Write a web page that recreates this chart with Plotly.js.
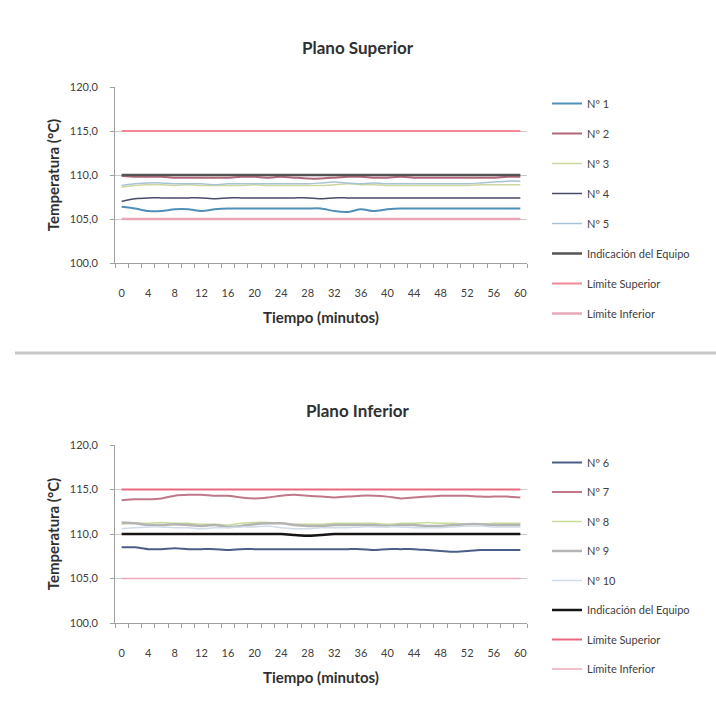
<!DOCTYPE html>
<html>
<head>
<meta charset="utf-8">
<script src="https://cdn.plot.ly/plotly-3.0.1.min.js"></script>
<style>html,body{margin:0;padding:0;background:#fff}#chart{width:716px;height:704px}</style>
</head>
<body>
<div id="chart"></div>
<script>
// Categories (minutes)
var tiempo = [0,2,4,6,8,10,12,14,16,18,20,22,24,26,28,30,32,34,36,38,40,42,44,46,48,50,52,54,56,58,60];
var tickLabels = [0,4,8,12,16,20,24,28,32,36,40,44,48,52,56,60];

// Plano Superior
var n1 = [106.4,106.2,105.9,105.9,106.1,106.1,105.9,106.1,106.2,106.2,106.2,106.2,106.2,106.2,106.2,106.2,105.9,105.8,106.1,105.9,106.1,106.2,106.2,106.2,106.2,106.2,106.2,106.2,106.2,106.2,106.2];
var n2 = [109.9,109.8,109.8,109.8,109.7,109.7,109.7,109.7,109.7,109.8,109.8,109.7,109.8,109.7,109.6,109.6,109.7,109.8,109.8,109.7,109.7,109.8,109.7,109.7,109.7,109.7,109.7,109.7,109.7,109.8,109.8];
var n3 = [108.6,108.8,108.9,108.9,108.8,108.9,108.8,108.8,108.8,108.8,108.9,108.8,108.8,108.8,108.8,108.8,108.9,109.0,108.9,108.9,108.8,108.8,108.8,108.8,108.8,108.8,108.8,108.9,108.9,108.9,108.9];
var n4 = [107.0,107.3,107.4,107.4,107.4,107.4,107.4,107.3,107.4,107.4,107.4,107.4,107.4,107.4,107.4,107.3,107.4,107.4,107.4,107.4,107.4,107.4,107.4,107.4,107.4,107.4,107.4,107.4,107.4,107.4,107.4];
var n5 = [108.8,109.0,109.1,109.1,109.0,109.0,109.0,108.9,109.0,109.0,109.0,109.0,109.0,109.0,109.0,109.1,109.2,109.1,109.0,109.1,109.0,109.0,109.0,109.0,109.0,109.0,109.0,109.1,109.2,109.3,109.3];
var indicSup = [110.0,110.0,110.0,110.0,110.0,110.0,110.0,110.0,110.0,110.0,110.0,110.0,110.0,110.0,110.0,110.0,110.0,110.0,110.0,110.0,110.0,110.0,110.0,110.0,110.0,110.0,110.0,110.0,110.0,110.0,110.0];

// Plano Inferior
var n6 = [108.5,108.5,108.3,108.3,108.4,108.3,108.3,108.3,108.2,108.3,108.3,108.3,108.3,108.3,108.3,108.3,108.3,108.3,108.3,108.2,108.3,108.3,108.3,108.2,108.1,108.0,108.1,108.2,108.2,108.2,108.2];
var n7 = [113.8,113.9,113.9,114.0,114.3,114.4,114.4,114.3,114.3,114.1,114.0,114.1,114.3,114.4,114.3,114.2,114.1,114.2,114.3,114.3,114.2,114.0,114.1,114.2,114.3,114.3,114.3,114.2,114.2,114.2,114.1];
var n8 = [111.1,111.2,111.2,111.3,111.2,111.2,111.1,111.1,111.0,111.2,111.3,111.3,111.2,111.1,111.1,111.1,111.2,111.2,111.2,111.2,111.1,111.2,111.2,111.3,111.2,111.2,111.1,111.1,111.2,111.2,111.2];
var n9 = [111.3,111.2,111.0,111.0,111.1,111.0,110.9,111.0,110.8,110.9,111.1,111.2,111.2,111.0,110.9,110.9,111.0,111.0,111.0,111.0,110.9,111.0,111.0,110.9,110.9,111.0,111.1,111.1,111.0,111.0,111.0];
var n10 = [110.6,110.7,110.8,110.8,110.7,110.7,110.6,110.7,110.7,110.8,110.8,110.9,110.7,110.6,110.6,110.7,110.7,110.7,110.8,110.8,110.8,110.8,110.7,110.7,110.7,110.8,110.9,110.9,110.8,110.8,110.8];
var indicInf = [110.0,110.0,110.0,110.0,110.0,110.0,110.0,110.0,110.0,110.0,110.0,110.0,110.0,109.9,109.8,109.9,110.0,110.0,110.0,110.0,110.0,110.0,110.0,110.0,110.0,110.0,110.0,110.0,110.0,110.0,110.0];

// Limits
var limSup = [115,115,115,115,115,115,115,115,115,115,115,115,115,115,115,115,115,115,115,115,115,115,115,115,115,115,115,115,115,115,115];
var limInf = [105,105,105,105,105,105,105,105,105,105,105,105,105,105,105,105,105,105,105,105,105,105,105,105,105,105,105,105,105,105,105];

var namesSup = ['Nº 1','Nº 2','Nº 3','Nº 4','Nº 5','Indicación del Equipo','Límite Superior','Límite Inferior'];
var namesInf = ['Nº 6','Nº 7','Nº 8','Nº 9','Nº 10','Indicación del Equipo','Límite Superior','Límite Inferior'];

var colorsSup = ['#4f8fb8','#b06878','#cfd6a0','#4a4a6a','#a8c4d4','#555555','#f08898','#e8a8b8'];
var colorsInf = ['#4a5e88','#c07888','#c8dc98','#b4b4b4','#d0dce8','#151515','#e86880','#eca8b8'];
var widthsSup = [2,2,1.5,1.5,1.5,2.5,2,2.5];
var widthsInf = [2,2,1.5,2.5,1.5,2.5,2,1.5];

var seriesSup = [n1,n2,n3,n4,n5,indicSup,limSup,limInf];
var seriesInf = [n6,n7,n8,n9,n10,indicInf,limSup,limInf];

var traces = [];
function addTraces(series, names, colors, widths, xa, ya, leg, grp) {
  for (var i = 0; i < series.length; i++) {
    traces.push({
      type: 'scatter', mode: 'lines', x: tiempo, y: series[i], name: names[i],
      xaxis: xa, yaxis: ya, legend: leg, legendgroup: grp + i,
      line: {color: colors[i], width: widths[i], shape: 'spline', smoothing: 0.6},
      hoverinfo: 'x+y+name'
    });
  }
}
addTraces(seriesSup, namesSup, colorsSup, widthsSup, 'x', 'y', 'legend', 's');
addTraces(seriesInf, namesInf, colorsInf, widthsInf, 'x2', 'y2', 'legend2', 'i');

var W = 716, H = 704;
function py(p) { return 1 - p / H; }
var fam = 'Lato, "Open Sans", sans-serif';

function xaxisDef(anchor) {
  return {
    anchor: anchor, domain: [115 / W, 527 / W], range: [-1, 61],
    tickvals: tickLabels, ticktext: tickLabels.map(String),
    ticks: '', showgrid: false, zeroline: false,
    showline: true, linecolor: '#a0a0a0', linewidth: 1,
    tickfont: {family: fam, size: 11, color: '#404040'},
    ticklabelstandoff: 20,
    minor: {tick0: -1, dtick: 2, ticks: 'outside', ticklen: 4, tickcolor: '#a0a0a0', showgrid: false},
    title: {text: 'Tiempo (minutos)', font: {family: fam, size: 15, color: '#303030', weight: 'bold'}, standoff: 14},
    fixedrange: true
  };
}
function yaxisDef(anchor, d0, d1) {
  return {
    anchor: anchor, domain: [py(d0), py(d1)], range: [100, 120], dtick: 5, tick0: 100,
    tickformat: '.1f', ticks: 'outside', ticklen: 4, tickcolor: '#a0a0a0',
    showgrid: true, gridcolor: '#c8c8c8', gridwidth: 1, zeroline: false,
    showline: true, linecolor: '#a0a0a0', linewidth: 1,
    tickfont: {family: fam, size: 11, color: '#404040'},
    ticklabelstandoff: 10,
    title: {text: 'Temperatura (°C)', font: {family: fam, size: 15, color: '#303030', weight: 'bold'}, standoff: 6},
    fixedrange: true
  };
}

var legFont = {family: fam, size: 11, color: '#404040'};
var layout = {
  width: W, height: H, margin: {l: 0, r: 0, t: 0, b: 0},
  paper_bgcolor: '#ffffff', plot_bgcolor: '#ffffff',
  separators: ',.', showlegend: true,
  font: {family: fam, color: '#404040'},
  xaxis: xaxisDef('y'), yaxis: yaxisDef('x', 263, 87),
  xaxis2: xaxisDef('y2'), yaxis2: yaxisDef('x2', 623, 445),
  legend: {x: 547 / W, xanchor: 'left', y: py(89), yanchor: 'top', font: legFont,
           tracegroupgap: 11, bgcolor: 'rgba(0,0,0,0)', itemwidth: 30},
  legend2: {x: 547 / W, xanchor: 'left', y: py(448), yanchor: 'top', font: legFont,
           tracegroupgap: 10.5, bgcolor: 'rgba(0,0,0,0)', itemwidth: 30},
  annotations: [
    {text: 'Plano Superior', xref: 'paper', yref: 'paper', x: 0.5, y: py(47), xanchor: 'center', yanchor: 'middle',
     showarrow: false, font: {family: fam, size: 17, color: '#303030', weight: 'bold'}},
    {text: 'Plano Inferior', xref: 'paper', yref: 'paper', x: 0.5, y: py(410), xanchor: 'center', yanchor: 'middle',
     showarrow: false, font: {family: fam, size: 17, color: '#303030', weight: 'bold'}}
  ],
  shapes: [
    {type: 'line', xref: 'paper', yref: 'paper', x0: 15 / W, x1: 1, y0: py(353), y1: py(353),
     line: {color: '#c8c8c8', width: 3}}
  ]
};

Plotly.newPlot('chart', traces, layout, {staticPlot: true, displayModeBar: false});
</script>
</body>
</html>
